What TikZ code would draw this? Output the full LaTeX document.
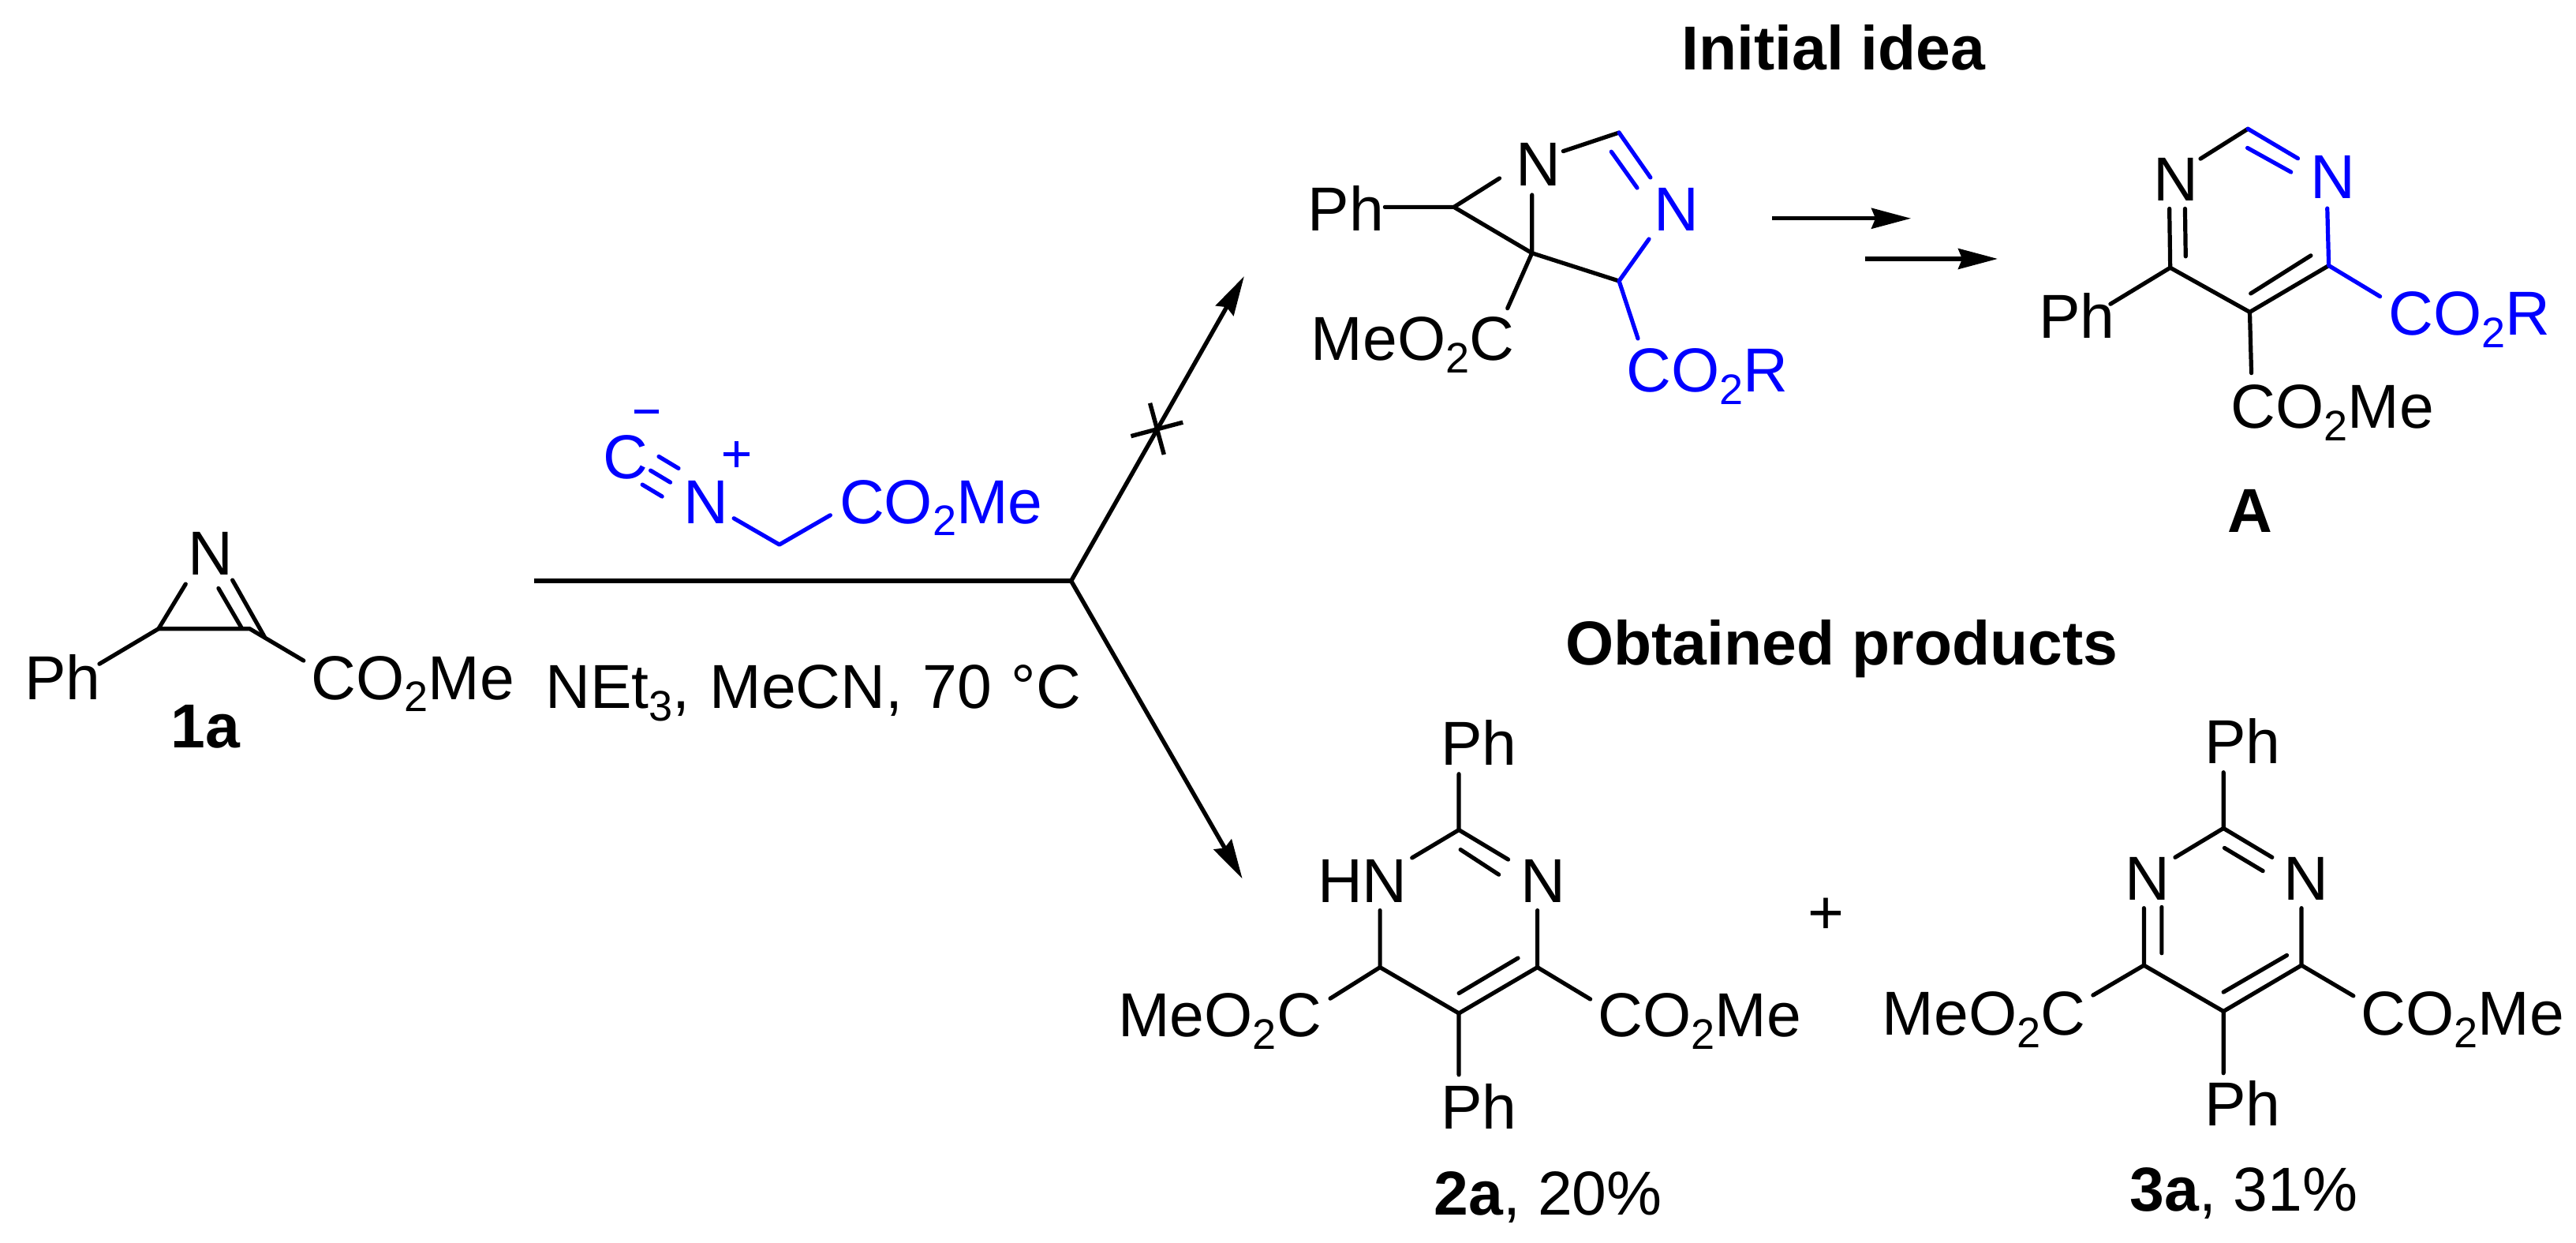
\documentclass[tikz,border=0pt]{standalone}
\usepackage{fontspec}
\setmainfont{Liberation Sans}
\usetikzlibrary{arrows.meta}
\definecolor{chemblue}{RGB}{0,0,255}
\newcommand\sbs[1]{\raisebox{-0.2em}{\fontsize{13}{13}\selectfont #1}}
\tikzset{
  lab/.style={inner sep=0pt,outer sep=0pt,anchor=base west,font=\fontsize{18.9}{18.9}\selectfont},
  labb/.style={lab,anchor=base,font=\fontsize{18.9}{18.9}\selectfont\bfseries},
  bond/.style={line width=1.25pt,line cap=round,line join=round,black},
  bbond/.style={bond,chemblue},
  rline/.style={line width=1.3pt},
  rarrow/.style={line width=1.3pt,-{Stealth[length=12pt,width=6.2pt,inset=1.2pt]}}
}
\begin{document}
\begin{tikzpicture}[x=0.5pt,y=-0.5pt]
\useasboundingbox (0,0) rectangle (1568,756);
% ---- 1a
\node[lab] (n1N) at (114.5,350) {N};
\node[lab] (n1Ph) at (15,425.5) {Ph};
\node[lab] (n1E) at (189.5,425.5) {CO\sbs{2}Me};
\node[labb] (n1l) at (125,455) {1a};
\coordinate (c1a) at (96.5,382.6);
\coordinate (c1b) at (152,382.6);
\coordinate (c1nl) at (113,355.4);
\coordinate (c1nr) at (141.5,353);
\coordinate (c1o) at (161,387.5);
\coordinate (c1ni) at (133,358);
\coordinate (c1bi) at (147,382);
\coordinate (c1ph) at (60.5,404);
\coordinate (c1e) at (184.8,402);
\draw[bond] (c1ph)--(c1a)--(c1nl);
\draw[bond] (c1a)--(c1b)--(c1e);
\draw[bond] (c1nr)--(c1o);
\draw[bond] (c1ni)--(c1bi);
% ---- reagent
\node[lab,text=chemblue] (iC) at (367,291.5) {C};
\node[lab,text=chemblue] (iN) at (416,318.5) {N};
\node[lab,text=chemblue] (iE) at (511,318.5) {CO\sbs{2}Me};
\coordinate (t1a) at (401,277.8); \coordinate (t1b) at (413,285);
\coordinate (t2a) at (396,286.3); \coordinate (t2b) at (408,293.5);
\coordinate (t3a) at (391,294.9); \coordinate (t3b) at (403,302.1);
\draw[bbond] (t1a)--(t1b) (t2a)--(t2b) (t3a)--(t3b);
\coordinate (m1) at (446.7,315.4); \coordinate (m2) at (474.4,331.4); \coordinate (m3) at (505.4,313.5);
\draw[bbond] (m1)--(m2)--(m3);
\coordinate (mns) at (393.4,250.4);
\draw[bbond,line cap=butt] ([xshift=-3.75pt]mns) -- ([xshift=3.75pt]mns);
\coordinate (pls) at (448.3,276.3);
\draw[bbond,line cap=butt] ([xshift=-4pt]pls) -- ([xshift=4pt]pls) ([yshift=-4pt]pls) -- ([yshift=4pt]pls);
% ---- conditions and arrows
\node[lab] (cond) at (332,431) {\spaceskip=6pt NEt\sbs{3}, MeCN, 70 °C};
\coordinate (rs) at (325,353.5);
\coordinate (J) at (652,353.5);
\coordinate (up) at (757.3,168.1);
\coordinate (dn) at (756.2,534.7);
\draw[rline,line cap=butt] (rs)--(J);
\draw[rarrow] (J)--(up);
\draw[rarrow] (J)--(dn);
\coordinate (x1) at (700,245.3); \coordinate (x2) at (708.5,276.6);
\coordinate (x3) at (688.4,265.4); \coordinate (x4) at (720,257);
\draw[rline] (x1)--(x2) (x3)--(x4);
% ---- Initial idea
\node[labb] (tI) at (1116,42.6) {Initial idea};
\node[lab] (bPh) at (796,140.5) {Ph};
\node[lab] (bN) at (923,113) {N};
\node[lab,text=chemblue] (bNb) at (1007,140.5) {N};
\node[lab] (bE) at (798,219.4) {MeO\sbs{2}C};
\node[lab,text=chemblue] (bEb) at (990,238.6) {CO\sbs{2}R};
\coordinate (bCH) at (885,126);
\coordinate (bQ) at (932.5,154);
\coordinate (bC4) at (985.5,171);
\coordinate (bC2) at (985.5,80.7);
\coordinate (e1) at (843,126);
\coordinate (e2) at (912.7,108.5);
\coordinate (e3) at (932.5,118.6);
\coordinate (e4) at (917.6,187.6);
\coordinate (e5) at (951.5,92);
\coordinate (e6) at (1004.6,108);
\coordinate (e7) at (980.8,92.3);
\coordinate (e8) at (996.5,114.3);
\coordinate (e9) at (1003.7,145.5);
\coordinate (e10) at (997,206);
\draw[bond] (e1)--(bCH)--(e2);
\draw[bond] (bCH)--(bQ)--(e3);
\draw[bond] (bQ)--(bC4);
\draw[bond] (bQ)--(e4);
\draw[bond] (e5)--(bC2);
\draw[bbond] (bC2)--(e6) (e7)--(e8);
\draw[bbond] (e9)--(bC4)--(e10);
% two-step arrows
\coordinate (s1a) at (1078.8,132.9); \coordinate (s1b) at (1163.2,132.9);
\coordinate (s2a) at (1135.1,157.5); \coordinate (s2b) at (1216,157.5);
\draw[rarrow] (s1a)--(s1b);
\draw[rarrow] (s2a)--(s2b);
% ---- A
\node[lab] (aN) at (1311,122.4) {N};
\node[lab,text=chemblue] (aNb) at (1406.6,121) {N};
\node[lab] (aPh) at (1241,206) {Ph};
\node[lab,text=chemblue] (aEb) at (1454,204) {CO\sbs{2}R};
\node[lab] (aE) at (1358,260.6) {CO\sbs{2}Me};
\node[labb] (aL) at (1369.5,323.7) {A};
\coordinate (a2) at (1368.3,78.4);
\coordinate (a4) at (1321,162.9);
\coordinate (a5) at (1369.4,189.9);
\coordinate (a6) at (1417.5,161.6);
\coordinate (f1) at (1339.4,96.6);
\coordinate (f2) at (1398.7,96.4);
\coordinate (f3) at (1368,90);
\coordinate (f4) at (1394.5,104.7);
\coordinate (f5) at (1320.5,127);
\coordinate (f6) at (1330,127);
\coordinate (f7) at (1330.4,156);
\coordinate (f8) at (1416.6,126.8);
\coordinate (f9) at (1370,178.6);
\coordinate (f10) at (1406.6,155.5);
\coordinate (f11) at (1284.6,185);
\coordinate (f12) at (1448.7,180.4);
\coordinate (f13) at (1370.4,227);
\draw[bond] (f1)--(a2);
\draw[bbond] (a2)--(f2) (f3)--(f4);
\draw[bond] (f5)--(a4)--(a5)--(a6);
\draw[bond] (f6)--(f7);
\draw[bond] (f9)--(f10);
\draw[bbond] (f8)--(a6)--(f12);
\draw[bond] (a4)--(f11);
\draw[bond] (a5)--(f13);
% ---- Obtained products
\node[labb] (tO) at (1121,404.5) {Obtained products};
% ---- 2a
\node[lab] (pPh1) at (877,465.8) {Ph};
\node[lab] (pHN) at (802,549) {HN};
\node[lab] (pN) at (925.8,549) {N};
\node[lab] (pE1) at (680.7,631) {MeO\sbs{2}C};
\node[lab] (pE2) at (972.7,631) {CO\sbs{2}Me};
\node[lab] (pPh2) at (877,687) {Ph};
\node[lab] (pL) at (873,739.4) {\textbf{2a}, 20\%};
\coordinate (p2) at (888,505);
\coordinate (p4) at (935.8,588.6);
\coordinate (p5) at (888,616.6);
\coordinate (p6) at (840,588.6);
\coordinate (g1) at (888,471);
\coordinate (g2) at (859.5,522);
\coordinate (g3) at (918,523);
\coordinate (g4) at (889,517);
\coordinate (g5) at (912.3,532.2);
\coordinate (g6) at (840,554);
\coordinate (g7) at (935.8,554);
\coordinate (g8) at (888,604.4);
\coordinate (g9) at (924,583);
\coordinate (g10) at (809.7,607.6);
\coordinate (g11) at (968,608);
\coordinate (g12) at (888,654);
\draw[bond] (g1)--(p2)--(g2);
\draw[bond] (p2)--(g3) (g4)--(g5);
\draw[bond] (g6)--(p6)--(p5)--(p4)--(g7);
\draw[bond] (g8)--(g9);
\draw[bond] (p6)--(g10) (p4)--(g11) (p5)--(g12);
% plus
\node[lab,anchor=center] (plus) at (1111.7,557.5) {+};
% ---- 3a
\node[lab] (qPh1) at (1342,464.6) {Ph};
\node[lab] (qN1) at (1293.5,547.8) {N};
\node[lab] (qN2) at (1390,547.8) {N};
\node[lab] (qE1) at (1145.7,630) {MeO\sbs{2}C};
\node[lab] (qE2) at (1437,630) {CO\sbs{2}Me};
\node[lab] (qPh2) at (1342,685) {Ph};
\node[lab] (qL) at (1296.5,737) {\textbf{3a}, 31\%};
\coordinate (q2) at (1353.4,504);
\coordinate (q4) at (1305,587.4);
\coordinate (q5) at (1353.4,615.4);
\coordinate (q6) at (1400.9,587.4);
\coordinate (h1) at (1353.4,470);
\coordinate (h2) at (1324,521.7);
\coordinate (h3) at (1383,521.7);
\coordinate (h4) at (1354,516);
\coordinate (h5) at (1377.4,530);
\coordinate (h6) at (1305,552.6);
\coordinate (h7) at (1315.8,552);
\coordinate (h8) at (1315.8,580);
\coordinate (h9) at (1400.9,552.6);
\coordinate (h10) at (1353.4,603.7);
\coordinate (h11) at (1392,581.3);
\coordinate (h12) at (1274,605.6);
\coordinate (h13) at (1432.5,606);
\coordinate (h14) at (1353.4,653);
\draw[bond] (h1)--(q2)--(h2);
\draw[bond] (q2)--(h3) (h4)--(h5);
\draw[bond] (h6)--(q4)--(q5)--(q6)--(h9);
\draw[bond] (h7)--(h8) (h10)--(h11);
\draw[bond] (q4)--(h12) (q6)--(h13) (q5)--(h14);
\end{tikzpicture}
\end{document}
